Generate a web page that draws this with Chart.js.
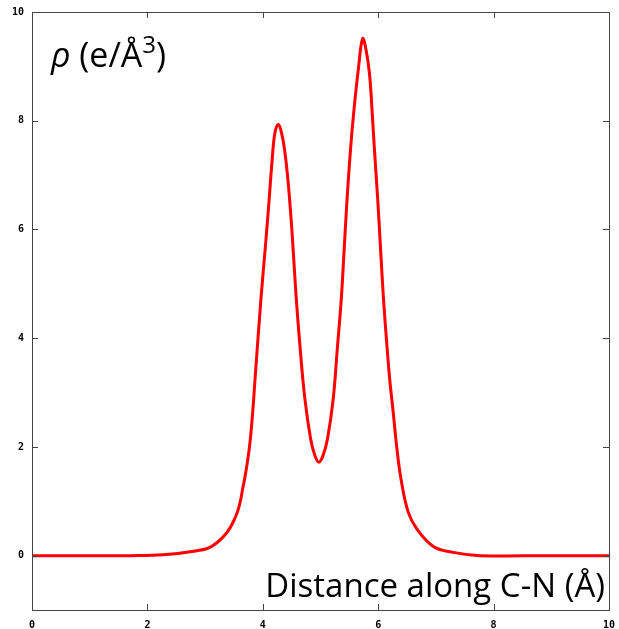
<!DOCTYPE html>
<html>
<head>
<meta charset="utf-8">
<script src="https://cdn.jsdelivr.net/npm/chart.js@4"></script>
<style>
  body { margin: 0; background: #fff; }
  canvas { display: block; }
</style>
</head>
<body>
<canvas id="rhoChart" width="619" height="629"></canvas>
<script>
// distance along C-N (Å) and electron density (e/Å³)
const distance = [0, 1.0, 1.7, 2.27, 2.86, 3.115, 3.375, 3.53, 3.60, 3.65, 3.70, 3.77, 3.825, 3.865, 3.97, 4.05, 4.11, 4.16, 4.21, 4.27, 4.33, 4.38, 4.44, 4.51, 4.575, 4.65, 4.73, 4.83, 4.90, 4.97, 5.04, 5.12, 5.22, 5.29, 5.36, 5.41, 5.46, 5.52, 5.58, 5.655, 5.73, 5.79, 5.85, 5.89, 5.93, 5.99, 6.04, 6.09, 6.145, 6.20, 6.26, 6.32, 6.395, 6.52, 6.67, 6.955, 7.30, 7.76, 9.0, 10];
const density = [0, 0, 0, 0.015, 0.09, 0.17, 0.42, 0.72, 0.95, 1.22, 1.5, 2.01, 2.64, 3.24, 4.75, 5.75, 6.55, 7.25, 7.78, 7.93, 7.75, 7.45, 6.86, 5.90, 4.80, 3.78, 2.88, 2.14, 1.85, 1.72, 1.83, 2.14, 2.88, 3.79, 4.72, 5.63, 6.55, 7.47, 8.2, 8.94, 9.51, 9.3, 8.85, 8.25, 7.55, 6.58, 5.66, 4.75, 3.95, 3.24, 2.64, 2.01, 1.41, 0.80, 0.49, 0.17, 0.06, 0, 0, 0];

const xTicks = [0, 2, 4, 6, 8, 10];
const yTicks = [0, 2, 4, 6, 8, 10];

const xTitle = 'Distance along C-N (Å)';

const tickFont = { family: 'DejaVu Sans Mono', size: 10, weight: 'bold' };

// gnuplot-style inward ticks on all four sides + labels inside the box
const framePlugin = {
    id: 'frame',
    afterDraw(chart) {
        const ctx = chart.ctx;
        const a = chart.chartArea;
        const xs = chart.scales.x, ys = chart.scales.y;
        ctx.save();
        ctx.strokeStyle = '#444';
        ctx.lineWidth = 1;
        ctx.beginPath();
        xTicks.forEach(v => {
            const px = Math.round(xs.getPixelForValue(v)) + 0.5;
            ctx.moveTo(px, a.bottom); ctx.lineTo(px, a.bottom - 6);
            ctx.moveTo(px, a.top); ctx.lineTo(px, a.top + 6);
        });
        yTicks.forEach(v => {
            const py = Math.round(ys.getPixelForValue(v)) + 0.5;
            ctx.moveTo(a.left, py); ctx.lineTo(a.left + 6, py);
            ctx.moveTo(a.right, py); ctx.lineTo(a.right - 6, py);
        });
        ctx.stroke();
        ctx.strokeRect(Math.round(a.left) + 0.5, Math.round(a.top) + 0.5, Math.round(a.right - a.left), Math.round(a.bottom - a.top));

        // y title: ρ (e/Å3) with raised 3
        ctx.fillStyle = '#000';
        ctx.textBaseline = 'alphabetic';
        ctx.textAlign = 'left';
        let x = 51;
        const base = 67;
        const parts = [
            ['ρ', 'italic 34px "Open Sans"', 0],
            [' (e/Å', '34px "Open Sans"', 0],
            ['3', '24px "Open Sans"', -14],
            [')', '34px "Open Sans"', 0]
        ];
        parts.forEach(([t, f, dy]) => {
            ctx.font = f;
            ctx.fillText(t, x, base + dy);
            x += ctx.measureText(t).width;
        });

        ctx.font = '33px "Open Sans"';
        ctx.textAlign = 'right';
        ctx.fillText(xTitle, 605, 597);
        ctx.restore();
    }
};

new Chart(document.getElementById('rhoChart').getContext('2d'), {
    type: 'line',
    data: {
        datasets: [{
            data: distance.map((d, i) => ({ x: d, y: density[i] })),
            borderColor: '#ff0000',
            borderWidth: 3,
            pointRadius: 0,
            fill: false,
            tension: 0.4
        }]
    },
    options: {
        responsive: false,
        animation: false,
        layout: { padding: { top: 12, right: 10, left: 0, bottom: 0 } },
        plugins: { legend: { display: false }, tooltip: { enabled: false } },
        scales: {
            x: {
                type: 'linear',
                min: 0, max: 10,
                afterBuildTicks: s => { s.ticks = xTicks.map(v => ({ value: v })); },
                afterFit: s => { s.height = 19; s.paddingLeft = 0; s.paddingRight = 0; },
                grid: { display: false, drawTicks: false },
                border: { display: false },
                ticks: { font: tickFont, color: '#000', padding: 9, maxRotation: 0 }
            },
            y: {
                type: 'linear',
                min: -1, max: 10,
                afterBuildTicks: s => { s.ticks = yTicks.map(v => ({ value: v })); },
                afterFit: s => { s.width = 32; s.paddingTop = 0; s.paddingBottom = 0; },
                grid: { display: false, drawTicks: false },
                border: { display: false },
                ticks: { font: tickFont, color: '#000', padding: 8 }
            }
        }
    },
    plugins: [framePlugin]
});
</script>
</body>
</html>
